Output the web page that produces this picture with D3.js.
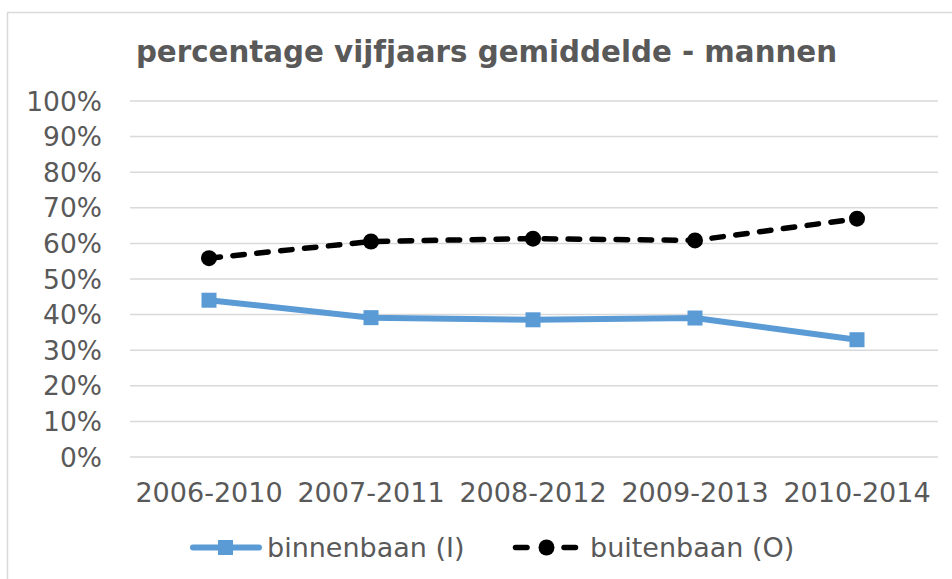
<!DOCTYPE html>
<html>
<head>
<meta charset="utf-8">
<script src="https://cdn.jsdelivr.net/npm/d3@7"></script>
<style>
  html, body { margin: 0; padding: 0; background: #fff; }
  svg { display: block; }
  text { font-family: "DejaVu Sans", Verdana, sans-serif; fill: #595959; }
</style>
</head>
<body>
<svg id="chart" width="952" height="579"></svg>
<script>
const title = "percentage vijfjaars gemiddelde - mannen";
const categories = ["2006-2010", "2007-2011", "2008-2012", "2009-2013", "2010-2014"];
const binnenbaan = [0.439, 0.390, 0.384, 0.389, 0.328];
const buitenbaan = [0.557, 0.604, 0.612, 0.607, 0.668];
const yTicks = [0, 0.1, 0.2, 0.3, 0.4, 0.5, 0.6, 0.7, 0.8, 0.9, 1.0];
const seriesNames = ["binnenbaan (I)", "buitenbaan (O)"];

const svg = d3.select("#chart");

// chart area border
svg.append("rect")
  .attr("x", 7.5).attr("y", 12.5)
  .attr("width", 960).attr("height", 600)
  .attr("fill", "#fff").attr("stroke", "#d9d9d9").attr("stroke-width", 1.5);

const x = d3.scaleBand().domain(categories).range([128, 938]);
const y = d3.scaleLinear().domain([0, 1]).range([456.5, 100.5]);

// title
svg.append("text")
  .attr("x", 486.5).attr("y", 62)
  .attr("text-anchor", "middle")
  .attr("font-size", 29.3).attr("font-weight", "bold")
  .text(title);

// gridlines + y axis
const yAxis = d3.axisLeft(y)
  .tickValues(yTicks)
  .tickSize(-(938 - 130))
  .tickPadding(28)
  .tickFormat(d3.format(".0%"));
const gy = svg.append("g").attr("transform", "translate(130,0)").call(yAxis);
gy.select(".domain").remove();
gy.selectAll(".tick line").attr("stroke", "#d9d9d9").attr("stroke-width", 1.5);
gy.selectAll(".tick text")
  .attr("font-size", 26.5)
  .attr("fill", "#595959")
  .attr("font-family", "DejaVu Sans, Verdana, sans-serif")
  .attr("dy", "0.36em");

// x axis labels
const xAxis = d3.axisBottom(x).tickSize(0).tickPadding(0);
const gx = svg.append("g").attr("transform", "translate(0,456.5)").call(xAxis);
gx.select(".domain").remove();
gx.selectAll(".tick text")
  .attr("font-size", 27)
  .attr("fill", "#595959")
  .attr("font-family", "DejaVu Sans, Verdana, sans-serif")
  .attr("dy", null)
  .attr("y", 45);

const cx = d => x(d) + x.bandwidth() / 2;
const line = d3.line().x((d, i) => cx(categories[i])).y(d => y(d));

// buitenbaan (dashed black)
svg.append("path")
  .datum(buitenbaan)
  .attr("d", line)
  .attr("fill", "none").attr("stroke", "#000")
  .attr("stroke-width", 5.5)
  .attr("stroke-linecap", "round")
  .attr("stroke-dasharray", "11.5,12.5");
svg.append("g").selectAll("circle")
  .data(buitenbaan).join("circle")
  .attr("cx", (d, i) => cx(categories[i]))
  .attr("cy", d => y(d))
  .attr("r", 8).attr("fill", "#000");

// binnenbaan (solid blue)
svg.append("path")
  .datum(binnenbaan)
  .attr("d", line)
  .attr("fill", "none").attr("stroke", "#5b9bd5")
  .attr("stroke-width", 6)
  .attr("stroke-linejoin", "round");
svg.append("g").selectAll("rect")
  .data(binnenbaan).join("rect")
  .attr("x", (d, i) => cx(categories[i]) - 7.5)
  .attr("y", d => y(d) - 7.5)
  .attr("width", 15).attr("height", 15)
  .attr("fill", "#5b9bd5");

// legend
const lg = svg.append("g");
lg.append("line")
  .attr("x1", 193).attr("x2", 259).attr("y1", 547.5).attr("y2", 547.5)
  .attr("stroke", "#5b9bd5").attr("stroke-width", 6).attr("stroke-linecap", "round");
lg.append("rect")
  .attr("x", 218).attr("y", 540).attr("width", 15).attr("height", 15)
  .attr("fill", "#5b9bd5");
lg.append("text")
  .attr("x", 267).attr("y", 557).attr("font-size", 27)
  .text(seriesNames[0]);

lg.append("line")
  .attr("x1", 515.5).attr("x2", 527).attr("y1", 547.5).attr("y2", 547.5)
  .attr("stroke", "#000").attr("stroke-width", 5.5).attr("stroke-linecap", "round");
lg.append("line")
  .attr("x1", 564).attr("x2", 575.5).attr("y1", 547.5).attr("y2", 547.5)
  .attr("stroke", "#000").attr("stroke-width", 5.5).attr("stroke-linecap", "round");
lg.append("circle")
  .attr("cx", 546.5).attr("cy", 547.5).attr("r", 8).attr("fill", "#000");
lg.append("text")
  .attr("x", 590).attr("y", 557).attr("font-size", 27)
  .text(seriesNames[1]);
</script>
</body>
</html>
